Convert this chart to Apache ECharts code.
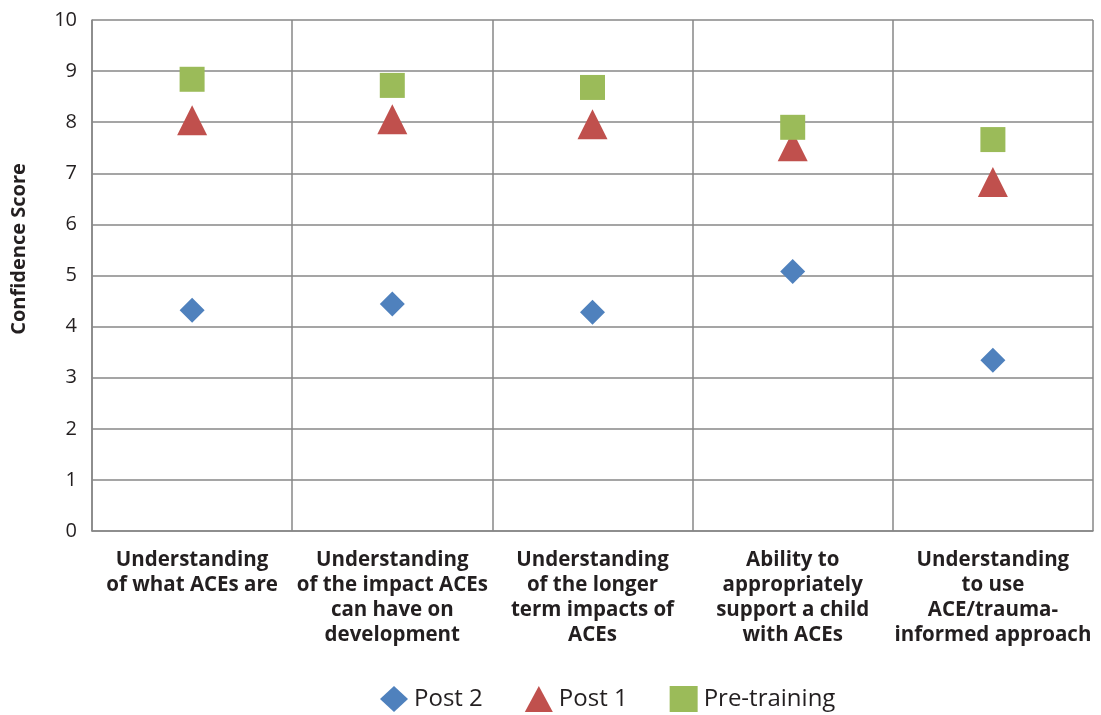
<!DOCTYPE html>
<html>
<head>
<meta charset="utf-8">
<script src="https://cdn.jsdelivr.net/npm/echarts@6/dist/echarts.min.js"></script>
<style>
  html, body { margin: 0; padding: 0; background: #fff; }
  #chart { width: 1101px; height: 715px; }
</style>
</head>
<body>
<div id="chart"></div>
<script>
// Training topics (x categories)
const categories = [
  'Understanding\nof what ACEs are',
  'Understanding\nof the impact ACEs\ncan have on\ndevelopment',
  'Understanding\nof the longer\nterm impacts of\nACEs',
  'Ability to\nappropriately\nsupport a child\nwith ACEs',
  'Understanding\nto use\nACE/trauma-\ninformed approach'
];

// Mean confidence scores per survey wave
const post2 = [4.32, 4.44, 4.28, 5.08, 3.34];
const post1 = [8.04, 8.06, 7.96, 7.53, 6.83];
const preTraining = [8.84, 8.72, 8.68, 7.90, 7.66];

const yTicks = [0, 1, 2, 3, 4, 5, 6, 7, 8, 9, 10];

const FONT = '"Open Sans", "Noto Sans", sans-serif';
const TEXT = '#231f20';
const GRID = '#878787';

const chart = echarts.init(document.getElementById('chart'), null, { renderer: 'canvas' });

chart.setOption({
  animation: false,
  backgroundColor: '#ffffff',
  grid: { left: 92, right: 8, top: 20, bottom: 184, containLabel: false },
  xAxis: {
    type: 'category',
    data: categories,
    boundaryGap: true,
    axisLine: { show: true, lineStyle: { color: GRID, width: 1.5 } },
    axisTick: { show: false },
    splitLine: { show: true, lineStyle: { color: GRID, width: 1.5 } },
    axisLabel: {
      interval: 0,
      margin: 17,
      color: TEXT,
      fontFamily: FONT,
      fontWeight: 'bold',
      fontSize: 20.5,
      lineHeight: 25,
      align: 'center'
    }
  },
  yAxis: {
    type: 'value',
    min: yTicks[0],
    max: yTicks[yTicks.length - 1],
    interval: 1,
    axisLine: { show: true, lineStyle: { color: GRID, width: 1.5 } },
    axisTick: { show: false },
    splitLine: { show: true, lineStyle: { color: GRID, width: 1.5 } },
    axisLabel: {
      margin: 15,
      color: TEXT,
      fontFamily: FONT,
      fontSize: 20
    }
  },
  graphic: [{
    type: 'text',
    x: 19,
    y: 249,
    rotation: Math.PI / 2,
    style: {
      text: 'Confidence Score',
      fill: TEXT,
      font: 'bold 20px ' + FONT,
      textAlign: 'center',
      textVerticalAlign: 'middle'
    }
  }],
  legend: {
    top: 686,
    left: 380,
    padding: 0,
    itemGap: 42,
    itemWidth: 28,
    itemHeight: 26,
    textStyle: { color: TEXT, fontFamily: FONT, fontSize: 24, padding: [0, 0, 0, 1] },
    data: [
      { name: 'Post 2', icon: 'diamond' },
      { name: 'Post 1', icon: 'triangle' },
      { name: 'Pre-training', icon: 'rect' }
    ]
  },
  series: [
    {
      name: 'Post 2',
      type: 'scatter',
      symbol: 'diamond',
      symbolSize: [25, 25],
      itemStyle: { color: '#4f81bd', opacity: 1 },
      data: post2,
      z: 3
    },
    {
      name: 'Post 1',
      type: 'scatter',
      symbol: 'triangle',
      symbolSize: [30, 30],
      itemStyle: { color: '#c0504d', opacity: 1 },
      data: post1,
      z: 4
    },
    {
      name: 'Pre-training',
      type: 'scatter',
      symbol: 'rect',
      symbolSize: [25, 25],
      itemStyle: { color: '#9bbb59', opacity: 1 },
      data: preTraining,
      z: 5
    }
  ]
});
</script>
</body>
</html>
